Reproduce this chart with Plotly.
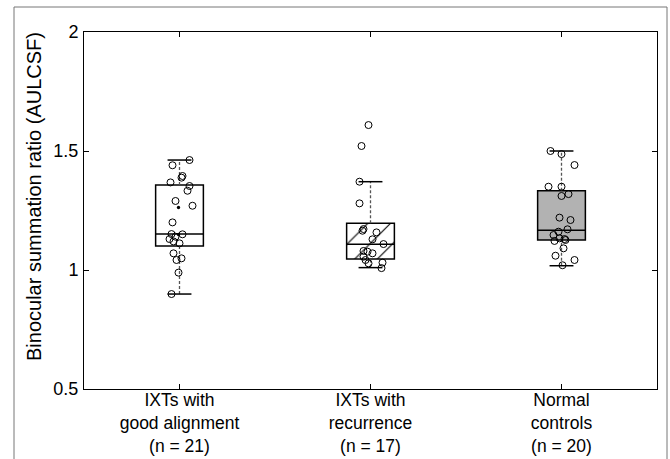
import plotly.graph_objects as go

# ---- data ----
categories = ["IXTs with<br>good alignment<br>(n = 21)",
              "IXTs with<br>recurrence<br>(n = 17)",
              "Normal<br>controls<br>(n = 20)"]
q1 = [1.101, 1.046, 1.126]
median = [1.151, 1.108, 1.167]
q3 = [1.357, 1.196, 1.333]
lower_whisker = [0.899, 1.010, 1.018]
upper_whisker = [1.462, 1.371, 1.500]

good_vals = [1.462, 1.440, 1.395, 1.388, 1.368, 1.353, 1.333, 1.290, 1.270, 1.200,
             1.151, 1.150, 1.130, 1.140, 1.112, 1.120, 1.070, 1.049, 1.042, 0.989, 0.899]
good_jit = [10, -7, 3, 2, -9, 10, 8, -4, 13, -7,
            -8, 3, -10, -4, 0, -6, -6, 2, -3, -1, -8]

rec_vals = [1.609, 1.521, 1.371, 1.280, 1.165, 1.172, 1.158, 1.129, 1.109, 1.080,
            1.077, 1.070, 1.056, 1.042, 1.028, 1.031, 1.008]
rec_jit = [-2, -9, -11, -11, -8, -7, 6, 2, 13, -7, -3, 2, -7, -5, -2, 12, 11]

norm_vals = [1.500, 1.487, 1.441, 1.350, 1.350, 1.311, 1.319, 1.220, 1.210, 1.171,
             1.161, 1.147, 1.133, 1.130, 1.122, 1.126, 1.091, 1.060, 1.042, 1.020]
norm_jit = [-11, 0, 13, -13, 0, 0, 7, -2, 9, 6, -3, -8, -2, 3, -7, 4, 2, -6, 13, 1]

y_ticks = [0.5, 1, 1.5, 2]
y_tick_text = ["0.5", "1", "1.5", "2"]
y_title = "Binocular summation ratio (AULCSF)"

# ---- styles ----
box_fill = ["white", "white", "#b2b2b2"]
box_pattern = [dict(shape=".", size=27, solidity=0.012, fgcolor="black", bgcolor="white", fillmode="replace"),
               dict(shape="/", size=16, solidity=0.07, fgcolor="black", bgcolor="white", fillmode="replace"),
               None]

PX_PER_UNIT = 191.0  # x pixels per category unit (converts jitter px)
BOX_W = 0.25
CAP_W = 0.125

fig = go.Figure()
xs = [1, 2, 3]

# whiskers (dashed)
for i, c in enumerate(xs):
    for a, b in ((q3[i], upper_whisker[i]), (lower_whisker[i], q1[i])):
        fig.add_trace(go.Scatter(x=[c, c], y=[a, b], mode="lines",
                                 line=dict(color="#555555", width=1.3, dash="3px,2px"),
                                 showlegend=False, hoverinfo="skip"))

# boxes as bars with patterns
for i, c in enumerate(xs):
    marker = dict(color=box_fill[i], line=dict(color="black", width=1.5))
    if box_pattern[i] is not None:
        marker["pattern"] = box_pattern[i]
    fig.add_trace(go.Bar(x=[c], y=[q3[i] - q1[i]], base=[q1[i]], width=BOX_W,
                         marker=marker, showlegend=False, hoverinfo="skip"))

# medians and caps
for i, c in enumerate(xs):
    fig.add_trace(go.Scatter(x=[c - BOX_W / 2, c + BOX_W / 2], y=[median[i], median[i]],
                             mode="lines", line=dict(color="black", width=1.5),
                             showlegend=False, hoverinfo="skip"))
    for w in (upper_whisker[i], lower_whisker[i]):
        fig.add_trace(go.Scatter(x=[c - CAP_W / 2, c + CAP_W / 2], y=[w, w],
                                 mode="lines", line=dict(color="black", width=1.5),
                                 showlegend=False, hoverinfo="skip"))

# points
for c, vals, jit in [(1, good_vals, good_jit), (2, rec_vals, rec_jit), (3, norm_vals, norm_jit)]:
    fig.add_trace(go.Scatter(
        x=[c + j / PX_PER_UNIT for j in jit], y=vals, mode="markers",
        marker=dict(symbol="circle-open", size=7, color="black", line=dict(width=1)),
        showlegend=False, hoverinfo="skip"))

FONT = "Liberation Sans, Arial, Helvetica, sans-serif"

fig.update_layout(
    width=670, height=459,
    margin=dict(l=84, r=13, t=32, b=70),
    paper_bgcolor="white", plot_bgcolor="white",
    barmode="overlay",
    font=dict(family=FONT, size=18, color="black"),
    xaxis=dict(range=[0.5, 3.5], tickvals=xs, ticktext=categories, automargin=False,
               showgrid=False, zeroline=False, showline=True, linecolor="black",
               linewidth=1, mirror="ticks", ticks="inside", ticklen=5,
               tickcolor="black", tickfont=dict(size=17.5), ticklabelstandoff=-5),
    yaxis=dict(range=[0.5, 2], tickvals=y_ticks, ticktext=y_tick_text, automargin=False,
               showgrid=False, zeroline=False, showline=True, linecolor="black",
               linewidth=1, mirror="ticks", ticks="inside", ticklen=5,
               tickcolor="black", tickfont=dict(size=18), ticklabelstandoff=1),
    annotations=[dict(text=y_title, textangle=-90, xref="paper", yref="paper",
                      x=(34 - 84) / 573, y=(389 - 197) / 357,
                      xanchor="center", yanchor="middle", showarrow=False,
                      font=dict(size=20, family=FONT, color="black"))],
    shapes=[dict(type="rect", xref="paper", yref="paper",
                 x0=(14 - 84) / 573, x1=(667 - 84) / 573,
                 y0=-0.3, y1=(389 - 7) / 357,
                 line=dict(color="#777777", width=1), fillcolor="rgba(0,0,0,0)",
                 layer="below")],
)

fig.write_html("out.html")
